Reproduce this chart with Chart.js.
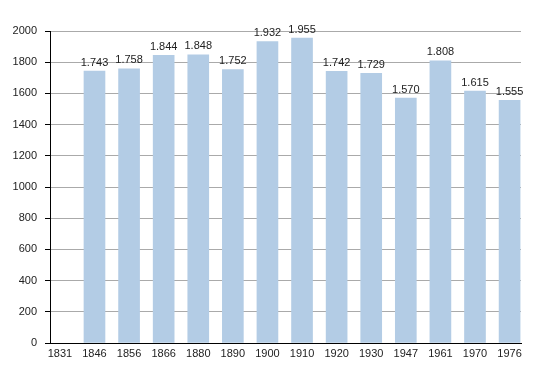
<!DOCTYPE html>
<html>
<head>
<meta charset="utf-8">
<script src="https://cdn.jsdelivr.net/npm/chart.js@4/dist/chart.umd.min.js"></script>
<style>
  html, body { margin: 0; padding: 0; background: #fff; }
  #wrap { width: 550px; height: 373px; }
</style>
</head>
<body>
<div id="wrap"><canvas id="chart"></canvas></div>
<script>
// Population by census year
const years = ['1831', '1846', '1856', '1866', '1880', '1890', '1900', '1910', '1920', '1930', '1947', '1961', '1970', '1976'];
const population = [null, 1743, 1758, 1844, 1848, 1752, 1932, 1955, 1742, 1729, 1570, 1808, 1615, 1555];
const yTicks = [0, 200, 400, 600, 800, 1000, 1200, 1400, 1600, 1800, 2000];

const FONT = { family: 'Liberation Sans, Arial, sans-serif', size: 11 };

function fmt(v) {
  return String(v).replace(/\B(?=(\d{3})+(?!\d))/g, '.');
}

// value labels above the bars
const barLabels = {
  id: 'barLabels',
  afterDatasetsDraw(chart) {
    const ctx = chart.ctx;
    const meta = chart.getDatasetMeta(0);
    ctx.save();
    ctx.font = FONT.size + 'px ' + FONT.family;
    ctx.fillStyle = '#222';
    ctx.textAlign = 'center';
    ctx.textBaseline = 'bottom';
    meta.data.forEach((bar, i) => {
      const v = population[i];
      if (v == null) return;
      ctx.fillText(fmt(v), bar.x, bar.y - 3);
    });
    ctx.restore();
  }
};

new Chart(document.getElementById('chart'), {
  type: 'bar',
  data: {
    datasets: [{
      data: years.map((y, i) => ({ x: i, y: population[i] })),
      backgroundColor: '#b3cce5',
      borderWidth: 0,
      barThickness: 21
    }]
  },
  options: {
    responsive: true,
    maintainAspectRatio: false,
    animation: false,
    layout: { padding: { left: 0, right: 29, top: 31, bottom: 0 } },
    plugins: {
      legend: { display: false },
      tooltip: { enabled: false }
    },
    scales: {
      x: {
        type: 'linear',
        offset: false,
        min: -0.286,
        max: 13.33,
        afterBuildTicks: scale => {
          scale.ticks = years.map((y, i) => ({ value: i }));
        },
        afterFit: scale => { scale.height = 30; },
        grid: { display: false, offset: false },
        border: { display: true, color: '#000', width: 1 },
        ticks: {
          padding: -4,
          maxRotation: 0,
          autoSkip: false,
          color: '#222',
          font: FONT,
          callback: v => years[v]
        }
      },
      y: {
        min: 0,
        max: 2000,
        afterFit: scale => { scale.width = 50; },
        ticks: {
          stepSize: 100,
          padding: 8,
          color: '#222',
          font: FONT,
          callback: v => yTicks.includes(v) ? v : ''
        },
        grid: {
          color: ctx => (ctx.tick && ctx.tick.value % 200 === 0) ? '#aaaaaa' : '#dddddd',
          tickColor: '#000',
          tickLength: 5
        },
        border: { display: true, color: '#000', width: 1 }
      }
    }
  },
  plugins: [barLabels]
});
</script>
</body>
</html>
